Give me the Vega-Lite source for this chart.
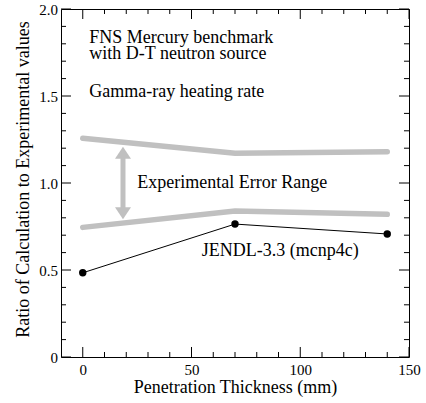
{
  "$schema": "https://vega.github.io/schema/vega-lite/v6.json",
  "width": 348,
  "height": 348,
  "autosize": {"type": "none"},
  "padding": {"left": 61, "top": 9, "right": 17, "bottom": 46},
  "config": {
    "font": "Liberation Serif",
    "view": {"stroke": "black", "strokeWidth": 1},
    "axis": {
      "labelColor": "black",
      "titleColor": "black",
      "titleFontWeight": "normal",
      "grid": false,
      "domain": false,
      "ticks": false,
      "labelFlush": false,
      "labelOverlap": false
    },
    "rule": {"color": "black", "strokeWidth": 1}
  },
  "datasets": {
    "range": [
      {"x": 0, "y": 1.257, "bound": "upper"},
      {"x": 70, "y": 1.171, "bound": "upper"},
      {"x": 140, "y": 1.18, "bound": "upper"},
      {"x": 0, "y": 0.745, "bound": "lower"},
      {"x": 70, "y": 0.839, "bound": "lower"},
      {"x": 140, "y": 0.82, "bound": "lower"}
    ],
    "jendl": [
      {"x": 0, "y": 0.484},
      {"x": 70, "y": 0.764},
      {"x": 140, "y": 0.707}
    ],
    "arrow": [
      {"x": 18.5, "top": 1.174, "bottom": 0.826}
    ],
    "notes": [
      {"x": 3.0, "y": 1.806, "label": "FNS Mercury benchmark"},
      {"x": 3.0, "y": 1.710, "label": "with D-T neutron source"},
      {"x": 3.0, "y": 1.496, "label": "Gamma-ray heating rate"},
      {"x": 25.1, "y": 0.970, "label": "Experimental Error Range"},
      {"x": 54.7, "y": 0.578, "label": "JENDL-3.3 (mcnp4c)"}
    ],
    "xMajor": [{"v": 0}, {"v": 50}, {"v": 100}, {"v": 150}],
    "xMinor": [{"v": 10}, {"v": 20}, {"v": 30}, {"v": 40}, {"v": 60}, {"v": 70}, {"v": 80}, {"v": 90}, {"v": 110}, {"v": 120}, {"v": 130}, {"v": 140}],
    "yMajor": [{"v": 0}, {"v": 0.5}, {"v": 1}, {"v": 1.5}, {"v": 2}],
    "yMinor": [{"v": 0.1}, {"v": 0.2}, {"v": 0.3}, {"v": 0.4}, {"v": 0.6}, {"v": 0.7}, {"v": 0.8}, {"v": 0.9}, {"v": 1.1}, {"v": 1.2}, {"v": 1.3}, {"v": 1.4}, {"v": 1.6}, {"v": 1.7}, {"v": 1.8}, {"v": 1.9}]
  },
  "layer": [
    {
      "data": {"name": "range"},
      "mark": {"type": "line", "color": "#c0c0c0", "strokeWidth": 5.5, "strokeCap": "round"},
      "encoding": {
        "detail": {"field": "bound"},
        "x": {
          "field": "x", "type": "quantitative",
          "scale": {"domain": [-10, 150], "nice": false, "zero": false},
          "axis": {
            "orient": "bottom",
            "values": [0, 50, 100, 150],
            "labelPadding": 5,
            "labelFontSize": 15,
            "title": "Penetration Thickness (mm)",
            "titleFontSize": 18,
            "titleBaseline": "alphabetic",
            "titleY": 35
          }
        },
        "y": {
          "field": "y", "type": "quantitative",
          "scale": {"domain": [0, 2], "nice": false, "zero": false},
          "axis": {
            "orient": "left",
            "values": [0, 0.5, 1, 1.5, 2],
            "labelExpr": "datum.value == 0 ? '0' : format(datum.value, '.1f')",
            "labelPadding": 3.5,
            "labelFontSize": 15,
            "title": "Ratio of Calculation to Experimental values",
            "titleFontSize": 18,
            "titleBaseline": "alphabetic",
            "titleX": -32.5,
            "titleY": 170
          }
        }
      }
    },
    {
      "data": {"name": "xMajor"},
      "mark": {"type": "rule"},
      "encoding": {"x": {"field": "v", "type": "quantitative"}, "y": {"datum": 0, "type": "quantitative"}, "y2": {"datum": 0.0575}}
    },
    {
      "data": {"name": "xMajor"},
      "mark": {"type": "rule"},
      "encoding": {"x": {"field": "v", "type": "quantitative"}, "y": {"datum": 2, "type": "quantitative"}, "y2": {"datum": 1.9425}}
    },
    {
      "data": {"name": "xMinor"},
      "mark": {"type": "rule"},
      "encoding": {"x": {"field": "v", "type": "quantitative"}, "y": {"datum": 0, "type": "quantitative"}, "y2": {"datum": 0.0287}}
    },
    {
      "data": {"name": "xMinor"},
      "mark": {"type": "rule"},
      "encoding": {"x": {"field": "v", "type": "quantitative"}, "y": {"datum": 2, "type": "quantitative"}, "y2": {"datum": 1.9713}}
    },
    {
      "data": {"name": "yMajor"},
      "mark": {"type": "rule"},
      "encoding": {"y": {"field": "v", "type": "quantitative"}, "x": {"datum": -10, "type": "quantitative"}, "x2": {"datum": -5.4}}
    },
    {
      "data": {"name": "yMajor"},
      "mark": {"type": "rule"},
      "encoding": {"y": {"field": "v", "type": "quantitative"}, "x": {"datum": 150, "type": "quantitative"}, "x2": {"datum": 145.4}}
    },
    {
      "data": {"name": "yMinor"},
      "mark": {"type": "rule"},
      "encoding": {"y": {"field": "v", "type": "quantitative"}, "x": {"datum": -10, "type": "quantitative"}, "x2": {"datum": -7.7}}
    },
    {
      "data": {"name": "yMinor"},
      "mark": {"type": "rule"},
      "encoding": {"y": {"field": "v", "type": "quantitative"}, "x": {"datum": 150, "type": "quantitative"}, "x2": {"datum": 147.7}}
    },
    {
      "data": {"name": "jendl"},
      "mark": {"type": "line", "color": "black", "strokeWidth": 1},
      "encoding": {
        "x": {"field": "x", "type": "quantitative"},
        "y": {"field": "y", "type": "quantitative"}
      }
    },
    {
      "data": {"name": "jendl"},
      "mark": {"type": "point", "filled": true, "color": "black", "size": 55, "opacity": 1},
      "encoding": {
        "x": {"field": "x", "type": "quantitative"},
        "y": {"field": "y", "type": "quantitative"}
      }
    },
    {
      "data": {"name": "arrow"},
      "mark": {"type": "rule", "color": "#c0c0c0", "strokeWidth": 5},
      "encoding": {
        "x": {"field": "x", "type": "quantitative"},
        "y": {"field": "top", "type": "quantitative"},
        "y2": {"field": "bottom"}
      }
    },
    {
      "data": {"name": "arrow"},
      "mark": {"type": "point", "filled": true, "color": "#c0c0c0", "opacity": 1, "size": 256, "shape": "M-1,0.75L0,-0.75L1,0.75Z"},
      "encoding": {
        "x": {"field": "x", "type": "quantitative"},
        "y": {"field": "top", "type": "quantitative"}
      }
    },
    {
      "data": {"name": "arrow"},
      "mark": {"type": "point", "filled": true, "color": "#c0c0c0", "opacity": 1, "size": 256, "shape": "M-1,-0.75L0,0.75L1,-0.75Z"},
      "encoding": {
        "x": {"field": "x", "type": "quantitative"},
        "y": {"field": "bottom", "type": "quantitative"}
      }
    },
    {
      "data": {"name": "notes"},
      "mark": {"type": "text", "align": "left", "baseline": "alphabetic", "fontSize": 18, "color": "black"},
      "encoding": {
        "x": {"field": "x", "type": "quantitative"},
        "y": {"field": "y", "type": "quantitative"},
        "text": {"field": "label"}
      }
    }
  ]
}
